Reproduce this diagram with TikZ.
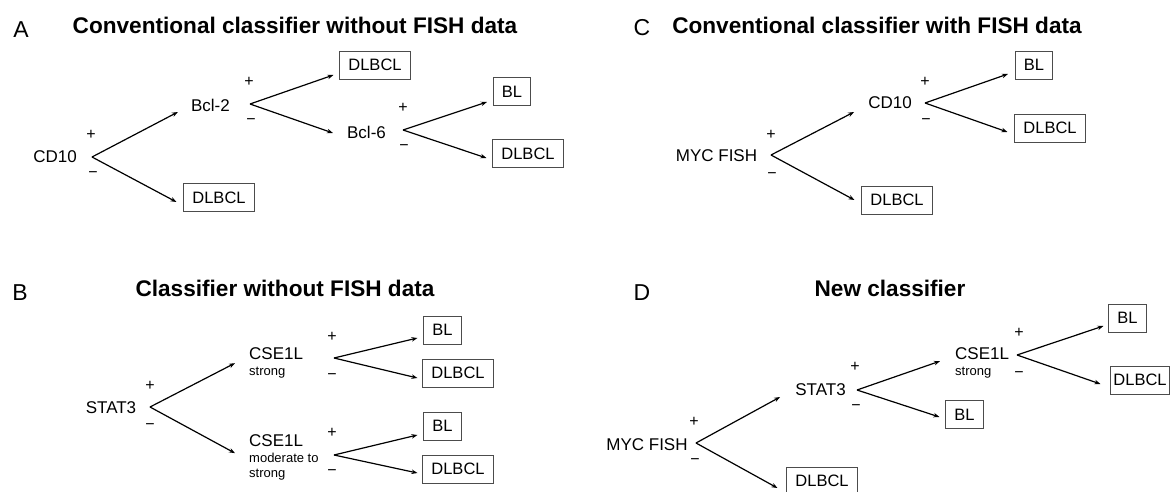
\documentclass[tikz,border=0pt]{standalone}
\usepackage{fontspec}
\setmainfont{Liberation Sans}
\usepackage{tikz}
\usetikzlibrary{arrows.meta}

\begin{document}
\begin{tikzpicture}[
  x=1pt, y=-1pt,
  panel/.style={font=\fontsize{23}{27}\selectfont},
  ttl/.style={font=\fontsize{22.6}{27}\selectfont\bfseries},
  marker/.style={inner sep=0pt, font=\fontsize{17}{20}\selectfont},
  sub/.style={inner sep=0pt, font=\fontsize{13}{15}\selectfont},
  leaf/.style={rectangle, draw=black!70, line width=0.9pt, inner xsep=8.5pt, inner ysep=0pt,
               minimum height=28pt, font=\fontsize{16.5}{20}\selectfont},
  sgn/.style={inner sep=0pt, font=\fontsize{16}{18}\selectfont},
  arr/.style={-{Stealth[length=6pt, width=4.5pt]}, line width=1.2pt}
]
  \clip (0,0) rectangle (1170,492);
  \fill[white] (0,0) rectangle (1170,492);

  % Panel A
  \node[panel] (pa) at (21,29.5) {A};
  \node[ttl] (ta) at (295,25) {Conventional classifier without FISH data};
  \node[marker] (cd10a) at (55,157) {CD10};
  \node[marker] (bcl2) at (210.5,105) {Bcl-2};
  \node[marker] (bcl6) at (366.5,132) {Bcl-6};
  \node[leaf] (dla1) at (375,65) {DLBCL};
  \node[leaf] (dla2) at (219,197.5) {DLBCL};
  \node[leaf] (bla1) at (512,91.5) {BL};
  \node[leaf] (dla3) at (528,153.5) {DLBCL};
  \coordinate (cd10af) at (92,157);
  \coordinate (bcl2f) at (250,104);
  \coordinate (bcl6f) at (403,130);
  \node[sgn] (pa1) at (91,135) {+};
  \node[sgn] (ma1) at (93,175) {−};
  \node[sgn] (pa2) at (249,82) {+};
  \node[sgn] (ma2) at (251,122) {−};
  \node[sgn] (pa3) at (403,108) {+};
  \node[sgn] (ma3) at (404,148) {−};
  \draw[arr] (cd10af) -- ([xshift=-13pt, yshift=-7pt]bcl2.west);
  \draw[arr] (cd10af) -- ([xshift=-7pt, yshift=-4.5pt]dla2.west);
  \draw[arr] (bcl2f) -- ([xshift=-6pt, yshift=-10pt]dla1.west);
  \draw[arr] (bcl2f) -- ([xshift=-14pt, yshift=-1pt]bcl6.west);
  \draw[arr] (bcl6f) -- ([xshift=-6pt, yshift=-10.5pt]bla1.west);
  \draw[arr] (bcl6f) -- ([xshift=-6pt, yshift=-4.5pt]dla3.west);

  % Panel C
  \node[panel] (pc) at (642,28) {C};
  \node[ttl] (tc) at (877,25) {Conventional classifier with FISH data};
  \node[marker] (mycc) at (716.5,156) {MYC FISH};
  \node[marker] (cd10c) at (890,103) {CD10};
  \node[leaf] (dlc1) at (897,200) {DLBCL};
  \node[leaf] (blc1) at (1034,65) {BL};
  \node[leaf] (dlc2) at (1050,128) {DLBCL};
  \coordinate (myccf) at (771,155);
  \coordinate (cd10cf) at (925,103);
  \node[sgn] (pc1) at (771,135) {+};
  \node[sgn] (mc1) at (772,176) {−};
  \node[sgn] (pc2) at (925,82) {+};
  \node[sgn] (mc2) at (926,122) {−};
  \draw[arr] (myccf) -- ([xshift=-14pt, yshift=-9pt]cd10c.west);
  \draw[arr] (myccf) -- ([xshift=-7pt]dlc1.west);
  \draw[arr] (cd10cf) -- ([xshift=-7pt, yshift=-9pt]blc1.west);
  \draw[arr] (cd10cf) -- ([xshift=-7pt, yshift=-4pt]dlc2.west);

  % Panel B
  \node[panel] (pb) at (20,293) {B};
  \node[ttl] (tb) at (285,288) {Classifier without FISH data};
  \node[marker] (stat3b) at (111,407.5) {STAT3};
  \node[marker, anchor=base west] (cseb1) at (249,359) {CSE1L};
  \node[sub, anchor=base west] (cseb1s) at (249,375.5) {strong};
  \node[marker, anchor=base west] (cseb2) at (249,446) {CSE1L};
  \node[sub, anchor=base west] (cseb2m) at (249,462) {moderate to};
  \node[sub, anchor=base west] (cseb2s) at (249,477) {strong};
  \node[leaf] (blb1) at (442.5,330) {BL};
  \node[leaf] (dlb1) at (458,373) {DLBCL};
  \node[leaf] (blb2) at (442.5,426) {BL};
  \node[leaf] (dlb2) at (458,469) {DLBCL};
  \coordinate (stat3bf) at (150,407);
  \coordinate (cseb1f) at (334,358);
  \coordinate (cseb2f) at (334,455);
  \node[sgn] (pb1) at (150,386) {+};
  \node[sgn] (mb1) at (150,427) {−};
  \node[sgn] (pb2) at (332,337) {+};
  \node[sgn] (mb2) at (332,377) {−};
  \node[sgn] (pb3) at (332,433) {+};
  \node[sgn] (mb3) at (332,473) {−};
  \draw[arr] (stat3bf) -- ([xshift=-14pt, yshift=-10pt]cseb1.west);
  \draw[arr] (stat3bf) -- ([xshift=-14pt, yshift=-13pt]cseb2.west);
  \draw[arr] (cseb1f) -- ([xshift=-6pt, yshift=-8pt]blb1.west);
  \draw[arr] (cseb1f) -- ([xshift=-5pt, yshift=-5pt]dlb1.west);
  \draw[arr] (cseb2f) -- ([xshift=-6pt, yshift=-9pt]blb2.west);
  \draw[arr] (cseb2f) -- ([xshift=-5pt, yshift=-4pt]dlb2.west);

  % Panel D
  \node[panel] (pd) at (642,293) {D};
  \node[ttl] (td) at (890,288) {New classifier};
  \node[marker] (mycd) at (647,445) {MYC FISH};
  \node[marker] (stat3d) at (820.5,390) {STAT3};
  \node[marker, anchor=base west] (csed) at (955,359) {CSE1L};
  \node[sub, anchor=base west] (cseds) at (955,375.5) {strong};
  \node[leaf] (dld1) at (822,481) {DLBCL};
  \node[leaf] (bld1) at (964.5,414.5) {BL};
  \node[leaf] (bld2) at (1127.5,318) {BL};
  \node[leaf, inner xsep=2.5pt] (dld2) at (1140,380) {DLBCL};
  \coordinate (mycdf) at (696,443);
  \coordinate (stat3df) at (857,390);
  \coordinate (csedf) at (1017,355);
  \node[sgn] (pd1) at (694,422) {+};
  \node[sgn] (md1) at (695,462) {−};
  \node[sgn] (pd2) at (855,367) {+};
  \node[sgn] (md2) at (856,408) {−};
  \node[sgn] (pd3) at (1019,333) {+};
  \node[sgn] (md3) at (1019,375) {−};
  \draw[arr] (mycdf) -- ([xshift=-15pt, yshift=-7pt]stat3d.west);
  \draw[arr] (mycdf) -- ([xshift=-9pt, yshift=-7pt]dld1.west);
  \draw[arr] (stat3df) -- ([xshift=-15pt, yshift=-8pt]csed.west);
  \draw[arr] (stat3df) -- ([xshift=-6pt, yshift=-2.5pt]bld1.west);
  \draw[arr] (csedf) -- ([xshift=-5pt, yshift=-8pt]bld2.west);
  \draw[arr] (csedf) -- ([xshift=-10pt, yshift=-4pt]dld2.west);
\end{tikzpicture}
\end{document}
